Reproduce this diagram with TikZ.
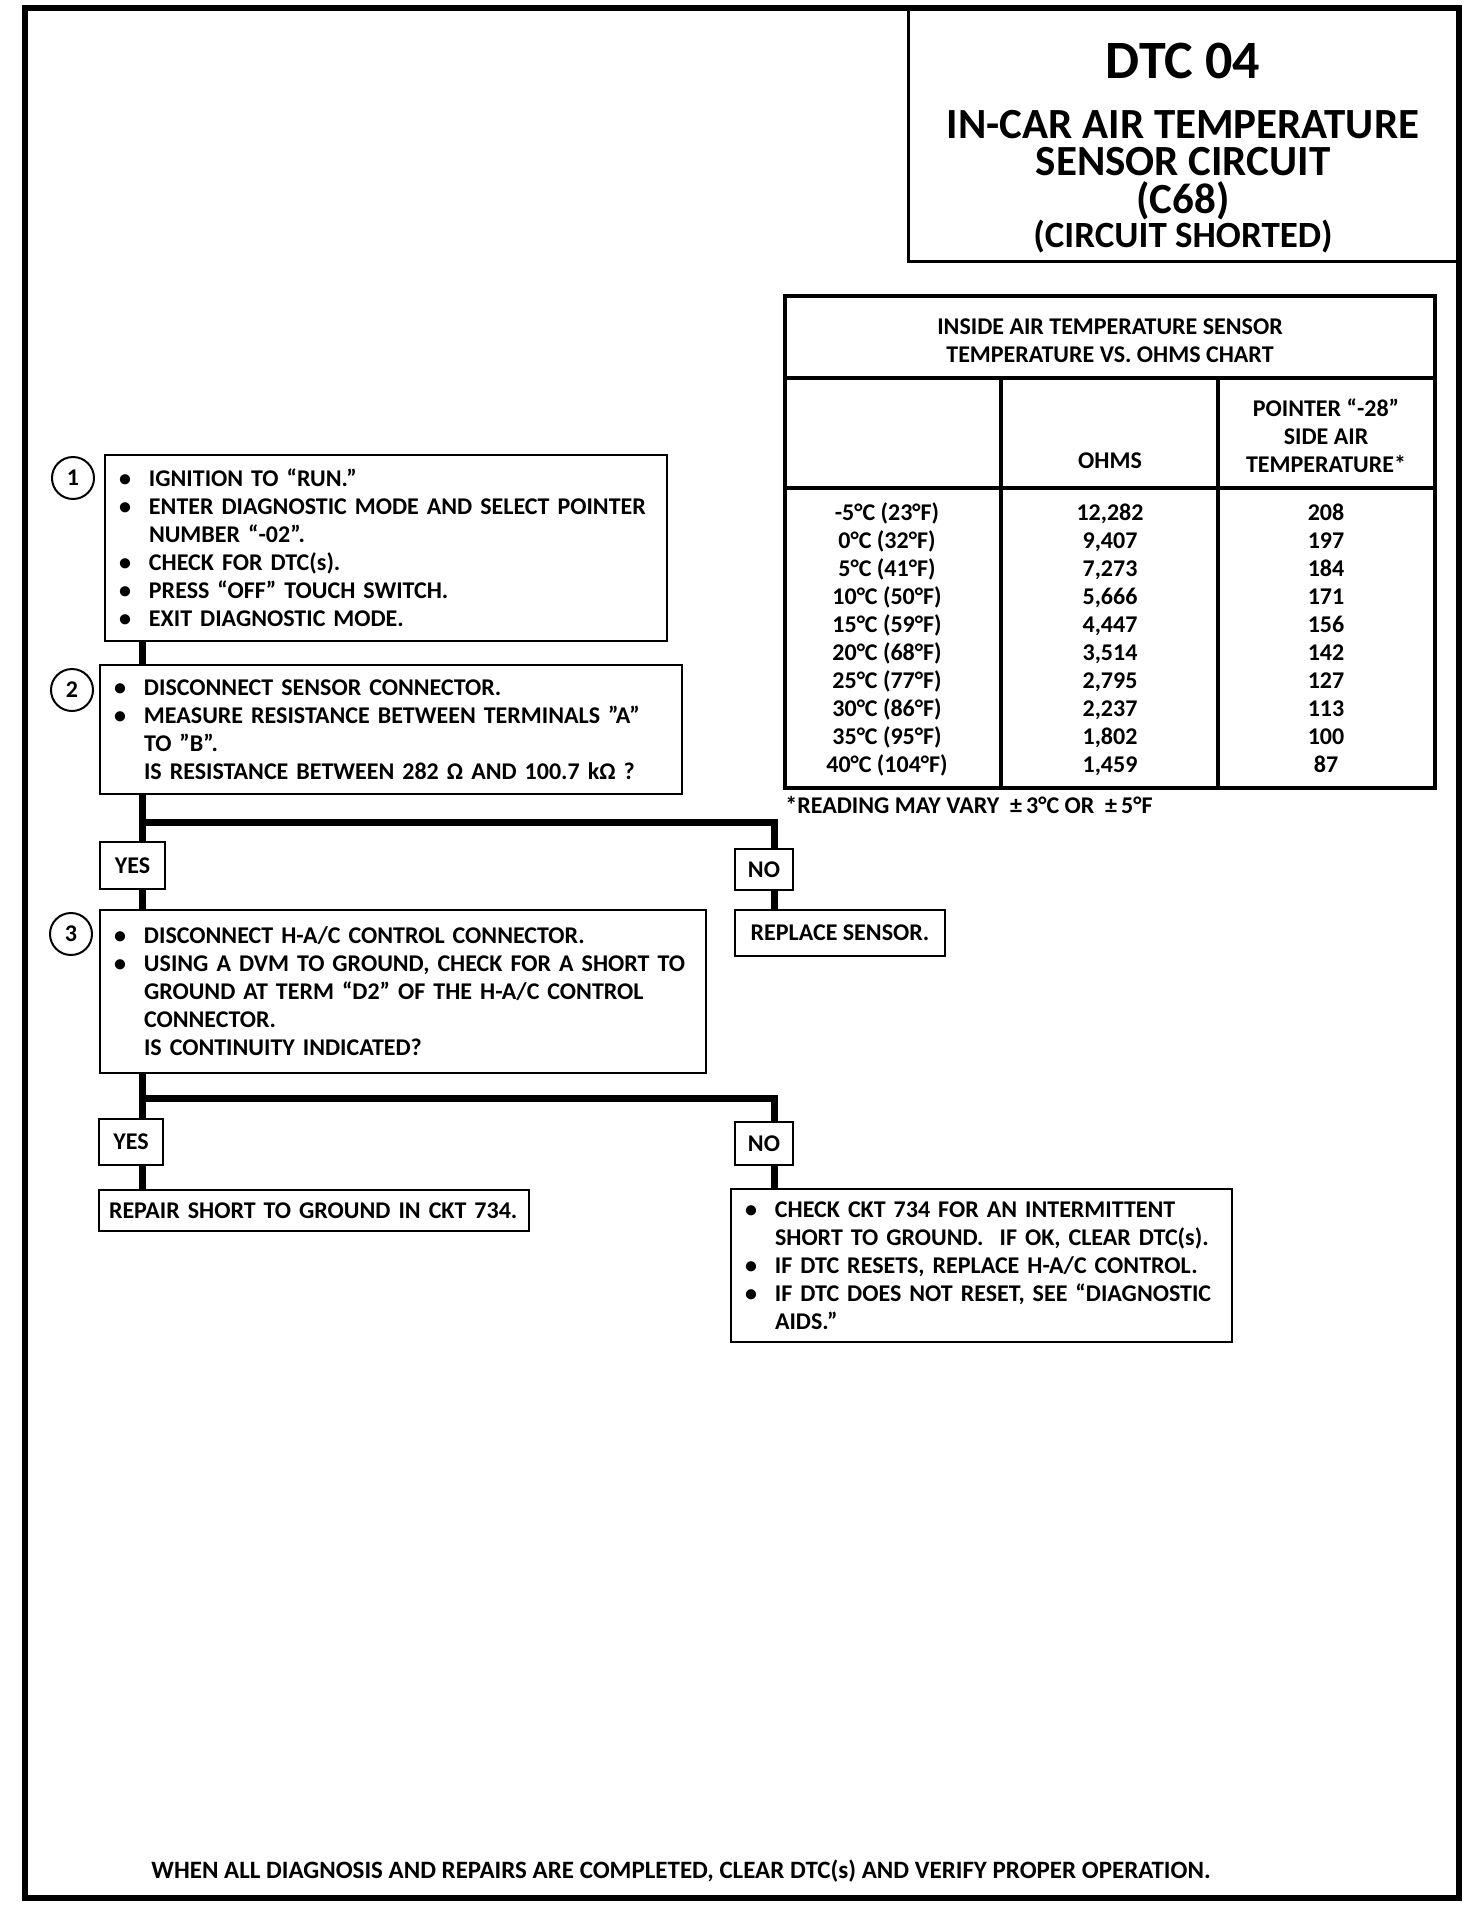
\documentclass[tikz,border=0pt]{standalone}
\usepackage{fontspec}
\setmainfont{Carlito}
\newcommand\bul{\makebox[15pt][l]{\textbullet}}
\newcommand\ind{\hspace*{15pt}}

\begin{document}
\begin{tikzpicture}[
  x=0.5pt,y=-0.5pt,
  txt/.style={font=\fontsize{12}{14}\selectfont\bfseries},
  headline/.style={font=\bfseries\fontsize{#1}{18.75}\selectfont,inner sep=0pt},
  stepbox/.style={txt,draw,line width=1.1pt,align=left,inner xsep=7pt,inner ysep=0pt},
  answer/.style={txt,draw,line width=1.1pt,align=center,inner sep=0pt},
  stepnum/.style={txt,draw,circle,line width=1pt,minimum size=21pt,inner sep=0pt},
  cell/.style={txt,inner sep=0pt,text height=8pt,text depth=2pt},
  route/.style={line width=3.5pt}
]
  \useasboundingbox (0,0) rectangle (1472,1908);
  \draw[line width=3pt] (25,8) rectangle (1459,1898);
  \draw[line width=1.5pt] (908,8) |- (1459,261);

  \node[headline=27,anchor=base] (dtc) at (1183,78) {DTC 04};
  \node[headline=21.5,anchor=north,align=center] (title) at (1183,109.5)
    {IN-CAR AIR TEMPERATURE\\SENSOR CIRCUIT\\(C68)};
  \node[headline=18.5,anchor=base] (subtitle) at (1183,247) {(CIRCUIT SHORTED)};

  \coordinate (tnw) at (785,296);
  \coordinate (tse) at (1435,788);
  \coordinate (colb) at (1001,0);
  \coordinate (colc) at (1218,0);
  \coordinate (rowb) at (0,378);
  \coordinate (rowc) at (0,488);
  \draw[line width=2pt] (tnw) rectangle (tse);
  \draw[line width=2pt] (tnw |- rowb) -- (tse |- rowb);
  \draw[line width=2pt] (tnw |- rowc) -- (tse |- rowc);
  \draw[line width=2pt] (colb |- rowb) -- (colb |- tse);
  \draw[line width=2pt] (colc |- rowb) -- (colc |- tse);

  \node[txt,align=center] (charthead) at (1110,341) {INSIDE AIR TEMPERATURE SENSOR\\TEMPERATURE VS. OHMS CHART};
  \node[txt,align=center] (ptrhead) at (1326,436) {POINTER “-28”\\SIDE AIR\\TEMPERATURE*};
  \node[cell] (ohmhead) at (1110,462) {OHMS};
  \foreach \degc/\res/\ptr [count=\i from 0] in {
      -5°C (23°F)/{12,282}/208, 0°C (32°F)/{9,407}/197, 5°C (41°F)/{7,273}/184,
      10°C (50°F)/{5,666}/171, 15°C (59°F)/{4,447}/156, 20°C (68°F)/{3,514}/142,
      25°C (77°F)/{2,795}/127, 30°C (86°F)/{2,237}/113, 35°C (95°F)/{1,802}/100,
      40°C (104°F)/{1,459}/87}{
    \node[cell] (temp\i) at (887,514+28*\i) {\degc};
    \node[cell] (ohm\i) at (1110,514+28*\i) {\res};
    \node[cell] (ptr\i) at (1326,514+28*\i) {\ptr};
  }
  \node[txt,anchor=west,inner sep=0pt] (note) at (785,805) {*READING MAY VARY \ ±\,3°C OR \ ±\,5°F};

  \node[stepbox,text width=267pt,minimum height=93pt] (b1) at (386,548)
    {\bul IGNITION TO “RUN.”\\
     \bul ENTER DIAGNOSTIC MODE AND SELECT POINTER\\
     \ind NUMBER “-02”.\\
     \bul CHECK FOR DTC(s).\\
     \bul PRESS “OFF” TOUCH SWITCH.\\
     \bul EXIT DIAGNOSTIC MODE.};
  \node[stepnum] (n1) at (73,478) {1};

  \node[stepbox,text width=277pt,minimum height=64.5pt] (b2) at (391,729.5)
    {\bul DISCONNECT SENSOR CONNECTOR.\\
     \bul MEASURE RESISTANCE BETWEEN TERMINALS "A"\\
     \ind TO "B".\\
     \ind IS RESISTANCE BETWEEN 282 Ω AND 100.7 kΩ ?};
  \node[stepnum] (n2) at (72,690) {2};

  \node[answer,minimum width=32.5pt,minimum height=23.5pt] (yes1) at (132.5,865.5) {YES};
  \node[answer,minimum width=29pt,minimum height=20.5pt] (no1) at (764,869.5) {NO};
  \node[answer,minimum width=105pt,minimum height=23pt] (replace) at (840,933) {REPLACE SENSOR.};

  \node[stepbox,text width=289pt,minimum height=81.5pt] (b3) at (403,991.5)
    {\bul DISCONNECT H-A/C CONTROL CONNECTOR.\\
     \bul USING A DVM TO GROUND, CHECK FOR A SHORT TO\\
     \ind GROUND AT TERM “D2” OF THE H-A/C CONTROL\\
     \ind CONNECTOR.\\
     \ind IS CONTINUITY INDICATED?};
  \node[stepnum] (n3) at (71,934) {3};

  \node[answer,minimum width=32pt,minimum height=23pt] (yes2) at (131,1142) {YES};
  \node[answer,minimum width=29pt,minimum height=21.5pt] (no2) at (764,1143.5) {NO};
  \node[stepbox,inner xsep=5pt,text width=205pt,minimum height=20.5pt] (repair) at (314,1210.5)
    {REPAIR SHORT TO GROUND IN CKT 734.};
  \node[stepbox,text width=236.5pt,minimum height=76.5pt] (check) at (981.5,1265.5)
    {\bul CHECK CKT 734 FOR AN INTERMITTENT\\
     \ind SHORT TO GROUND. \ IF OK, CLEAR DTC(s).\\
     \bul IF DTC RESETS, REPLACE H-A/C CONTROL.\\
     \bul IF DTC DOES NOT RESET, SEE “DIAGNOSTIC\\
     \ind AIDS.”};

  \coordinate (spine) at (142,0);
  \coordinate (nocol) at (774,0);
  \coordinate (fork1) at (142,822);
  \coordinate (fork2) at (142,1098);
  \draw[route] (b1.south -| spine) -- (b2.north -| spine);
  \draw[route] (b2.south -| spine) -- (yes1.north -| spine);
  \draw[route] (yes1.south -| spine) -- (b3.north -| spine);
  \draw[route] (fork1) -| (no1.north -| nocol);
  \draw[route] (no1.south -| nocol) -- (replace.north -| nocol);
  \draw[route] (b3.south -| spine) -- (yes2.north -| spine);
  \draw[route] (yes2.south -| spine) -- (repair.north -| spine);
  \draw[route] (fork2) -| (no2.north -| nocol);
  \draw[route] (no2.south -| nocol) -- (check.north -| nocol);

  \node[txt,font=\fontsize{12.5}{14}\selectfont\bfseries] (footer) at (681,1871)
    {WHEN ALL DIAGNOSIS AND REPAIRS ARE COMPLETED, CLEAR DTC(s) AND VERIFY PROPER OPERATION.};
\end{tikzpicture}
\end{document}
